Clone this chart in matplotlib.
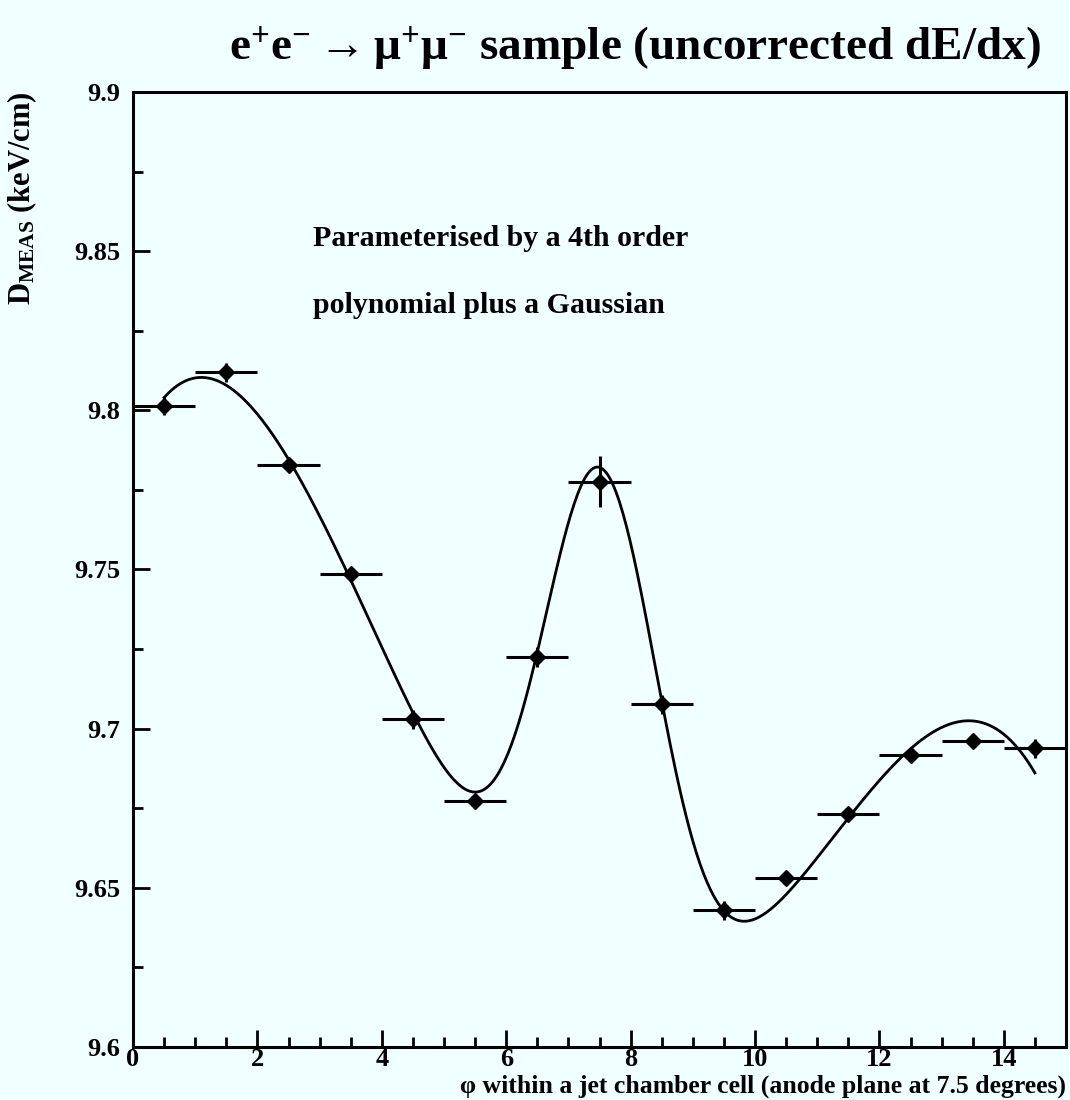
import numpy as np
import matplotlib
matplotlib.use("Agg")
import matplotlib.pyplot as plt
from matplotlib.ticker import MultipleLocator, FixedLocator

plt.rcParams['font.family'] = ['Liberation Serif', 'DejaVu Serif']
plt.rcParams['font.weight'] = 'bold'
plt.rcParams['mathtext.fontset'] = 'custom'
plt.rcParams['mathtext.rm'] = 'Liberation Serif:bold'
plt.rcParams['mathtext.it'] = 'Liberation Serif:italic:bold'
plt.rcParams['mathtext.bf'] = 'Liberation Serif:bold'

# Binned measurements: D_MEAS per phi bin
phi_centres = [0.5, 1.5, 2.5, 3.5, 4.5, 5.5, 6.5, 7.5, 8.5, 9.5, 10.5, 11.5, 12.5, 13.5, 14.5]
phi_halfwidth = [0.5] * 15
d_meas = [9.8015, 9.8120, 9.7828, 9.7486, 9.7029, 9.6774, 9.7225, 9.7775, 9.7076,
          9.6429, 9.6532, 9.6731, 9.6917, 9.6961, 9.6939]
d_err = [0.003, 0.003, 0.002, 0.002, 0.003, 0.002, 0.003, 0.008, 0.003,
         0.003, 0.002, 0.002, 0.002, 0.002, 0.003]

# Fit: 4th order polynomial in (phi - 7.5) plus a Gaussian
poly_centre = 7.5
poly_coeffs = [9.619037, -9.798098e-03, 7.129805e-03, 2.810679e-05, -9.302700e-05]
gauss_amp = 0.1630946
gauss_mu = 7.52
gauss_sigma = 0.92
fit_range = [0.5, 14.5]


def fit_function(phi):
    t = phi - poly_centre
    poly = sum(c * t ** k for k, c in enumerate(poly_coeffs))
    return poly + gauss_amp * np.exp(-0.5 * ((phi - gauss_mu) / gauss_sigma) ** 2)


bg = '#F0FFFF'
fig = plt.figure(figsize=(10.7, 11.0), dpi=100, facecolor=bg)
ax = fig.add_axes([133 / 1070, 1 - 1047 / 1100, 933 / 1070, 955 / 1100])
ax.set_facecolor(bg)

ax.errorbar(phi_centres, d_meas, xerr=phi_halfwidth, yerr=d_err, fmt='D', color='black',
            ms=8, elinewidth=2.2, capsize=0)

xs = np.linspace(fit_range[0], fit_range[1], 500)
ax.plot(xs, fit_function(xs), color='black', lw=2)

ax.set_xlim(0, 15)
ax.set_ylim(9.6, 9.9)
ax.xaxis.set_major_locator(FixedLocator([0, 2, 4, 6, 8, 10, 12, 14]))
ax.xaxis.set_minor_locator(MultipleLocator(0.5))
ax.yaxis.set_minor_locator(MultipleLocator(0.025))
ax.tick_params(which='both', direction='in', top=False, right=False, width=2, labelsize=19)
ax.tick_params(which='major', length=12)
ax.tick_params(which='minor', length=7)
ax.tick_params(axis='x', which='major', pad=1)
ax.tick_params(axis='y', which='major', pad=9)
ax.set_yticks([9.6, 9.65, 9.7, 9.75, 9.8, 9.85, 9.9])
ax.set_yticklabels(['9.6', '9.65', '9.7', '9.75', '9.8', '9.85', '9.9'])
for s in ax.spines.values():
    s.set_linewidth(2.2)

ax.text(2.9, 9.854, 'Parameterised by a 4th order', fontsize=21.5, va='center', ha='left')
ax.text(2.9, 9.833, 'polynomial plus a Gaussian', fontsize=21.5, va='center', ha='left')

fig.text(0.593, 1 - 48 / 1100, r'e$^{+}$e$^{-}$$\rightarrow$μ$^{+}$μ$^{-}$ sample (uncorrected dE/dx)',
         fontsize=34, ha='center', va='center')
fig.text(22 / 1070, 1 - 92 / 1100, r'D$_{\mathrm{MEAS}}$ (keV/cm)', fontsize=22,
         rotation=90, ha='center', va='top')
fig.text(1066 / 1070, 2 / 1100,
         'φ within a jet chamber cell (anode plane at 7.5 degrees)', fontsize=18.5,
         ha='right', va='bottom')

fig.savefig('out.png', dpi=100, facecolor=fig.get_facecolor())
